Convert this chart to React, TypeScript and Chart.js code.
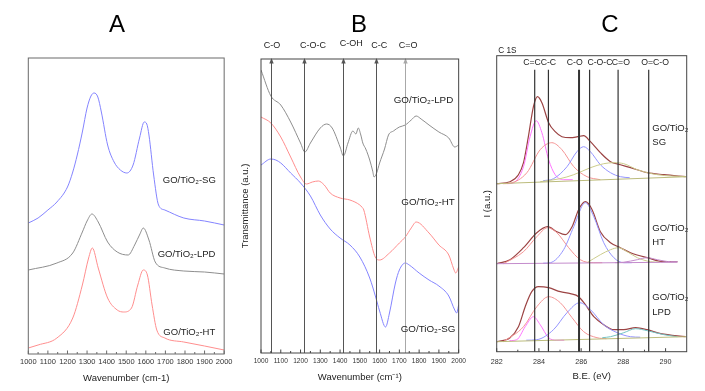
import { useEffect, useRef } from 'react';
import { Chart, registerables } from 'chart.js';

Chart.register(...registerables);

const FONT = '"Liberation Sans", Arial, Helvetica, sans-serif';

type Pt = [number, number];

// ---------------- Panel A (Raman) ----------------
const A_TICKS = [1000, 1100, 1200, 1300, 1400, 1500, 1600, 1700, 1800, 1900, 2000];
const A_MINOR = [1050, 1150, 1250, 1350, 1450, 1550, 1650, 1750, 1850, 1950];
const A_SG: Pt[] = [
  [1000, 131], [1050, 136], [1100, 144], [1146, 152], [1200, 167], [1227, 182], [1250, 199],
  [1276, 222], [1300, 246], [1320, 258], [1336, 261], [1355, 257], [1373, 242], [1405, 209],
  [1438, 192], [1470, 184], [1503, 181], [1535, 189], [1568, 216], [1592, 232], [1605, 230],
  [1616, 219], [1640, 179], [1665, 149], [1697, 144], [1794, 136], [1900, 133], [2000, 129],
];
const A_LPD: Pt[] = [
  [1000, 84], [1146, 91], [1227, 101], [1276, 122], [1300, 133], [1325, 140], [1357, 132],
  [1405, 112], [1454, 102], [1510, 99], [1543, 109], [1570, 120], [1587, 126], [1616, 114],
  [1648, 92], [1697, 86], [1794, 83], [1900, 82], [2000, 80],
];
const A_HT: Pt[] = [
  [1000, 6], [1050, 9], [1146, 16], [1227, 36], [1276, 69], [1308, 96], [1327, 106], [1357, 86],
  [1405, 56], [1454, 44], [1487, 42], [1527, 46], [1559, 69], [1587, 84], [1608, 79], [1632, 49],
  [1656, 24], [1697, 16], [1794, 12], [1900, 8], [2000, 4],
];
const A_NAMES = ['GO/TiO₂-SG', 'GO/TiO₂-LPD', 'GO/TiO₂-HT'];
const A_NAME_AT: Pt[] = [[1822, 174], [1808, 100], [1822, 22]];

// ---------------- Panel B (FTIR) ----------------
const B_TICKS = [1000, 1100, 1200, 1300, 1400, 1500, 1600, 1700, 1800, 1900, 2000];
const B_MINOR = [1050, 1150, 1250, 1350, 1450, 1550, 1650, 1750, 1850, 1950];
const B_LPD: Pt[] = [
  [1000, 283], [1050, 257], [1100, 248], [1150, 231], [1200, 210], [1222, 201], [1250, 210],
  [1300, 225], [1332, 229], [1360, 225], [1400, 206], [1417, 197], [1440, 210], [1465, 222],
  [1480, 219], [1492, 225], [1505, 218], [1515, 210], [1530, 204], [1550, 193], [1565, 182],
  [1572, 176], [1585, 180], [1600, 190], [1625, 204], [1645, 218], [1670, 222], [1700, 226],
  [1730, 228], [1760, 233], [1785, 237], [1810, 234], [1850, 228], [1900, 221], [1950, 215],
  [1980, 206], [2000, 208],
];
const B_HT: Pt[] = [
  [1000, 236], [1050, 230], [1100, 216], [1150, 196], [1200, 176], [1230, 169], [1260, 171],
  [1290, 172], [1320, 168], [1350, 160], [1400, 155], [1450, 153], [1500, 148], [1510, 146],
  [1520, 143], [1550, 116], [1578, 96], [1600, 93], [1650, 100], [1700, 110], [1730, 116],
  [1760, 125], [1785, 131], [1850, 120], [1900, 108], [1950, 98], [1975, 84], [1985, 80], [2000, 86],
];
const B_SG: Pt[] = [
  [1000, 188], [1050, 194], [1075, 193], [1100, 190], [1150, 180], [1200, 170], [1250, 157],
  [1300, 138], [1350, 124], [1400, 115], [1450, 108], [1500, 96], [1550, 75], [1580, 56],
  [1600, 42], [1630, 26], [1650, 40], [1680, 70], [1700, 83], [1730, 90], [1750, 88],
  [1800, 80], [1850, 73], [1900, 67], [1950, 57], [1980, 43], [1990, 40], [2000, 48],
];
const B_NAMES = ['GO/TiO₂-LPD', 'GO/TiO₂-HT', 'GO/TiO₂-SG'];
const B_NAME_AT: Pt[] = [[1822, 253], [1845, 151], [1845, 24]];
const B_BONDS = [1050, 1220, 1415, 1580, 1730];
const B_BOND_NAMES = ['C-O', 'C-O-C', 'C-OH', 'C-C', 'C=O'];
const B_BOND_LABEL_X = [1056, 1263, 1456, 1598, 1744];

// ---------------- Panel C (XPS C 1s) ----------------
const C_TICKS = [282, 284, 286, 288, 290];
const C_MINOR = [283, 285, 287, 289];
const C_SG_ENV: Pt[] = [
  [282, 168], [282.63, 170], [283.03, 177], [283.27, 189], [283.5, 215], [283.74, 245],
  [283.93, 255], [284.14, 249], [284.46, 229], [284.77, 220], [285.09, 215], [285.49, 214],
  [285.84, 215], [286.12, 216], [286.44, 210], [286.91, 199], [287.39, 190], [287.86, 187],
  [288.34, 184], [289.13, 179], [289.92, 177], [290.95, 175],
];
const C_SG_CC: Pt[] = [
  [282.5, 168], [282.8, 169], [283.27, 185], [283.58, 215], [283.87, 231], [284.14, 219],
  [284.46, 192], [284.77, 177], [285.17, 172], [285.6, 172],
];
const C_SG_C_C: Pt[] = [
  [282.3, 168], [282.63, 168.5], [283.43, 179], [284.06, 202], [284.61, 209], [285.09, 202],
  [285.65, 185], [286.28, 175], [286.91, 172],
];
const C_SG_CO: Pt[] = [
  [284.2, 171], [284.69, 173], [285.33, 185], [285.8, 200], [286.12, 205], [286.44, 200],
  [286.91, 187], [287.39, 179], [287.86, 175], [288.3, 174],
];
const C_SG_C_O: Pt[] = [
  [284.06, 170], [285.0, 173], [285.65, 177], [286.44, 184], [287.07, 188], [287.55, 189],
  [288.02, 188], [288.66, 182], [289.61, 177], [290.95, 175],
];
const C_SG_BASE: Pt[] = [[282, 168], [291, 175]];

const C_HT_ENV: Pt[] = [
  [282, 88], [282.63, 92], [283.27, 104], [283.9, 119], [284.41, 125], [284.85, 120],
  [285.25, 117], [285.57, 125], [285.88, 142], [286.2, 150], [286.52, 142], [286.91, 120],
  [287.39, 109], [287.86, 104], [288.34, 99], [289.13, 94], [289.92, 90], [290.56, 90],
];
const C_HT_C_C: Pt[] = [
  [282.32, 88], [283.27, 100], [283.9, 115], [284.41, 124], [284.85, 119], [285.41, 104],
  [285.96, 92], [286.6, 89], [287, 89],
];
const C_HT_CO: Pt[] = [
  [284.2, 88.5], [284.54, 89], [285.17, 102], [285.65, 125], [286.2, 149], [286.6, 135],
  [287.07, 109], [287.55, 94], [288.02, 89], [288.4, 89],
];
const C_HT_C_O: Pt[] = [
  [286.28, 89], [286.91, 97], [287.39, 102], [287.78, 104], [288.18, 100], [288.66, 94],
  [289.29, 90], [289.7, 89.5],
];
const C_HT_OCO: Pt[] = [
  [287.6, 89], [288.02, 89.5], [288.66, 92], [289.13, 94], [289.61, 92], [290.24, 90], [290.56, 90],
];
const C_HT_BASE: Pt[] = [[282, 88], [290.56, 89.5]];

const C_LPD_ENV: Pt[] = [
  [282, 10], [282.63, 14], [283.03, 25], [283.35, 45], [283.66, 60], [283.98, 65], [284.46, 64],
  [285.01, 60], [285.49, 58], [285.88, 55], [286.2, 47], [286.6, 35], [287.07, 27], [287.55, 22],
  [288.02, 22], [288.58, 24], [289.13, 22], [289.77, 18], [290.95, 15],
];
const C_LPD_C_C: Pt[] = [
  [282.32, 10], [283.27, 25], [283.9, 45], [284.46, 55], [285.01, 49], [285.57, 34], [286.12, 20],
  [286.75, 14], [287.2, 13],
];
const C_LPD_CC: Pt[] = [
  [282.6, 11], [282.95, 12], [283.35, 25], [283.74, 35], [284.06, 27], [284.46, 14], [284.85, 11.5],
  [285.2, 11.5],
];
const C_LPD_CO: Pt[] = [
  [283.4, 11.5], [283.9, 12], [284.69, 22], [285.33, 39], [285.93, 49], [286.44, 42], [287.07, 27],
  [287.71, 19], [288.34, 15], [288.8, 14.5],
];
const C_LPD_OCO: Pt[] = [
  [287.0, 14], [287.39, 15], [288.02, 19], [288.58, 23], [289.13, 21], [289.92, 17], [290.56, 15],
];
const C_LPD_BASE: Pt[] = [[282, 10], [291, 15]];

const C_BONDS = [283.8, 284.45, 285.9, 286.4, 287.75, 289.2];
const C_BOND_NAMES = ['C=C', 'C-C', 'C-O', 'C-O-C', 'C=O', 'O=C-O'];
const C_BOND_LABEL_X = [283.67, 284.45, 285.7, 286.89, 287.88, 289.5];
const C_GROUPS = ['SG', 'HT', 'LPD'];
const C_GROUP_Y = [223.7, 123.7, 54.3];
const C_GROUP_X = 289.37;

// ---------------- helpers ----------------
const xy = (pts: Pt[]) => pts.map(([x, y]) => ({ x, y }));

function ds(label: string, pts: Pt[], color: string, width = 1) {
  return {
    label,
    data: xy(pts),
    borderColor: color,
    borderWidth: width,
    pointRadius: 0,
    fill: false,
    cubicInterpolationMode: 'monotone',
  };
}

function txt(ctx: CanvasRenderingContext2D, s: string, x: number, y: number, size: number,
  align: CanvasTextAlign = 'center', baseline: CanvasTextBaseline = 'middle', color = '#222', family = FONT) {
  ctx.font = `${size}px ${family}`;
  ctx.fillStyle = color;
  ctx.textAlign = align;
  ctx.textBaseline = baseline;
  ctx.fillText(s, x, y);
}

function framePlugin(spec: any) {
  return {
    id: 'frame' + spec.key,
    afterDatasetsDraw(chart: any) {
      const { ctx, chartArea: a, scales } = chart;
      const xs = scales.x;
      const ys = scales.y;
      ctx.save();
      if (spec.extra) spec.extra(ctx, a, xs, ys);
      ctx.strokeStyle = spec.boxColor;
      ctx.lineWidth = 1;
      ctx.strokeRect(a.left, a.top, a.right - a.left, a.bottom - a.top);
      ctx.beginPath();
      spec.major.forEach((v: number) => {
        const x = xs.getPixelForValue(v);
        ctx.moveTo(x, a.bottom);
        ctx.lineTo(x, a.bottom - 3.5);
      });
      spec.minor.forEach((v: number) => {
        const x = xs.getPixelForValue(v);
        ctx.moveTo(x, a.bottom);
        ctx.lineTo(x, a.bottom - 2);
      });
      ctx.stroke();
      txt(ctx, spec.letter, spec.letterX, spec.letterY, 24, 'center', 'alphabetic', '#000');
      ctx.restore();
    },
  };
}

function makeOptions(o: any) {
  return {
    animation: false,
    responsive: false,
    maintainAspectRatio: false,
    events: [],
    layout: { padding: o.padding },
    plugins: { legend: { display: false }, tooltip: { enabled: false }, title: { display: false } },
    scales: {
      x: {
        type: 'linear',
        min: o.xMin,
        max: o.xMax,
        afterBuildTicks: (s: any) => { s.ticks = o.ticks.map((v: number) => ({ value: v })); },
        afterFit: (s: any) => { s.height = o.axisH; },
        grid: { display: false, drawTicks: false },
        border: { display: false },
        ticks: {
          font: { family: FONT, size: o.tickSize },
          color: '#333',
          padding: o.tickPad,
          maxRotation: 0,
          autoSkip: false,
          callback: (v: any) => String(v),
        },
        title: {
          display: true,
          text: o.xTitle,
          font: { family: FONT, size: 9.5 },
          color: '#222',
          padding: { top: 0, bottom: o.xTitlePad },
        },
      },
      y: o.yTitle
        ? {
          type: 'linear',
          min: 0,
          max: o.yMax,
          afterFit: (s: any) => { s.width = o.yW; },
          grid: { display: false, drawTicks: false },
          border: { display: false },
          ticks: { display: false },
          title: {
            display: true,
            text: o.yTitle,
            font: { family: FONT, size: 9.5 },
            color: '#222',
            padding: { top: o.yTitlePad, bottom: 0 },
          },
        }
        : { type: 'linear', display: false, min: 0, max: o.yMax },
    },
  };
}

// ---------------- configs ----------------
function configA() {
  return {
    type: 'line',
    data: {
      datasets: [
        ds('GO/TiO₂-SG', A_SG, '#8484ff'),
        ds('GO/TiO₂-LPD', A_LPD, '#8e8e8e'),
        ds('GO/TiO₂-HT', A_HT, '#ff8e8e'),
      ],
    },
    options: makeOptions({
      padding: { left: 28.3, right: 2, top: 58, bottom: 0 },
      xMin: 1000, xMax: 2000, ticks: A_TICKS, axisH: 37, tickSize: 7.5, tickPad: 3.5,
      xTitle: 'Wavenumber (cm-1)', xTitlePad: 7.3, yMax: 296,
    }),
    plugins: [framePlugin({
      key: 'A', boxColor: '#6a6a6a', major: A_TICKS, minor: A_MINOR, letter: 'A', letterX: 117, letterY: 31.7,
      extra: (ctx: any, a: any, xs: any, ys: any) => {
        A_NAMES.forEach((n, i) => {
          txt(ctx, n, xs.getPixelForValue(A_NAME_AT[i][0]), ys.getPixelForValue(A_NAME_AT[i][1]), 9.5);
        });
      },
    })],
  };
}

function configB() {
  return {
    type: 'line',
    data: {
      datasets: [
        ds('GO/TiO₂-LPD', B_LPD, '#8e8e8e'),
        ds('GO/TiO₂-HT', B_HT, '#ff8e8e'),
        ds('GO/TiO₂-SG', B_SG, '#8484ff'),
      ],
    },
    options: makeOptions({
      padding: { left: 0, right: 11, top: 59, bottom: 0 },
      xMin: 1000, xMax: 2000, ticks: B_TICKS, axisH: 38, tickSize: 6.6, tickPad: 4,
      xTitle: 'Wavenumber (cm⁻¹)', xTitlePad: 8, yMax: 294,
      yTitle: 'Transmittance (a.u.)', yW: 25, yTitlePad: 3.6,
    }),
    plugins: [framePlugin({
      key: 'B', boxColor: '#444', major: B_TICKS, minor: B_MINOR, letter: 'B', letterX: 123, letterY: 31.7,
      extra: (ctx: any, a: any, xs: any, ys: any) => {
        B_BONDS.forEach((v, i) => {
          const x = Math.round(xs.getPixelForValue(v)) + 0.5;
          const col = i === B_BONDS.length - 1 ? '#a8a8a8' : '#555';
          ctx.strokeStyle = col;
          ctx.fillStyle = col;
          ctx.lineWidth = 1;
          ctx.beginPath();
          ctx.moveTo(x, a.bottom);
          ctx.lineTo(x, a.top + 3);
          ctx.stroke();
          ctx.beginPath();
          ctx.moveTo(x, a.top - 1);
          ctx.lineTo(x - 2.2, a.top + 4.5);
          ctx.lineTo(x + 2.2, a.top + 4.5);
          ctx.closePath();
          ctx.fill();
          txt(ctx, B_BOND_NAMES[i], xs.getPixelForValue(B_BOND_LABEL_X[i]), i === 2 ? 43.5 : 46, 9);
        });
        B_NAMES.forEach((n, i) => {
          txt(ctx, n, xs.getPixelForValue(B_NAME_AT[i][0]), ys.getPixelForValue(B_NAME_AT[i][1]), 9.8);
        });
      },
    })],
  };
}

const ENV = '#9c4444';
const MAG = '#ff74ff';
const SAL = '#f49494';
const BLU = '#9494ff';
const OLV = '#cccc8c';
const TEAL = '#74c4c4';
const PUR = '#c48ccc';
const BASE = '#bcbc7c';

function configC() {
  return {
    type: 'line',
    data: {
      datasets: [
        ds('SG baseline', C_SG_BASE, BASE),
        ds('SG C=O', C_SG_C_O, OLV),
        ds('SG C-O', C_SG_CO, BLU),
        ds('SG C-C', C_SG_C_C, SAL),
        ds('SG C=C', C_SG_CC, MAG),
        ds('SG fit', C_SG_ENV, ENV, 1.2),
        ds('HT baseline', C_HT_BASE, PUR),
        ds('HT O=C-O', C_HT_OCO, PUR),
        ds('HT C=O', C_HT_C_O, OLV),
        ds('HT C-O', C_HT_CO, BLU),
        ds('HT C-C', C_HT_C_C, SAL),
        ds('HT fit', C_HT_ENV, ENV, 1.2),
        ds('LPD baseline', C_LPD_BASE, BASE),
        ds('LPD O=C-O', C_LPD_OCO, TEAL),
        ds('LPD C-O', C_LPD_CO, BLU),
        ds('LPD C=C', C_LPD_CC, MAG),
        ds('LPD C-C', C_LPD_C_C, SAL),
        ds('LPD fit', C_LPD_ENV, ENV, 1.2),
      ],
    },
    options: makeOptions({
      padding: { left: 0, right: 18.3, top: 55.7, bottom: 0 },
      xMin: 282, xMax: 291, ticks: C_TICKS, axisH: 39.3, tickSize: 7.2, tickPad: 5.7,
      xTitle: 'B.E. (eV)', xTitlePad: 9.3, yMax: 296,
      yTitle: 'I (a.u.)', yW: 26.7, yTitlePad: 11.3,
    }),
    plugins: [framePlugin({
      key: 'C', boxColor: '#444', major: C_TICKS, minor: C_MINOR, letter: 'C', letterX: 140, letterY: 32.3,
      extra: (ctx: any, a: any, xs: any, ys: any) => {
        C_BONDS.forEach((v, i) => {
          const x = xs.getPixelForValue(v);
          ctx.strokeStyle = '#333';
          ctx.lineWidth = i === 2 ? 2 : 1.2;
          ctx.beginPath();
          ctx.moveTo(x, a.bottom);
          ctx.lineTo(x, a.top + 14);
          ctx.stroke();
          txt(ctx, C_BOND_NAMES[i], xs.getPixelForValue(C_BOND_LABEL_X[i]), a.top + 7, 8.7);
        });
        txt(ctx, 'C 1S', a.left + 1.5, a.top - 5, 8.2, 'left');
        C_GROUPS.forEach((g, i) => {
          const x = xs.getPixelForValue(C_GROUP_X);
          txt(ctx, 'GO/TiO₂', x, ys.getPixelForValue(C_GROUP_Y[i]), 9.5, 'left');
          txt(ctx, g, x, ys.getPixelForValue(C_GROUP_Y[i] - 14.5), 9.5, 'left');
        });
      },
    })],
  };
}

export default function App() {
  const refA = useRef<HTMLCanvasElement>(null);
  const refB = useRef<HTMLCanvasElement>(null);
  const refC = useRef<HTMLCanvasElement>(null);

  useEffect(() => {
    const charts = [
      new Chart(refA.current as any, configA() as any),
      new Chart(refB.current as any, configB() as any),
      new Chart(refC.current as any, configC() as any),
    ];
    return () => charts.forEach((c) => c.destroy());
  }, []);

  return (
    <div style={{ position: 'absolute', left: 0, top: 0, width: 705, height: 391, background: '#fff', overflow: 'hidden' }}>
      <canvas ref={refA} width={236} height={391} style={{ position: 'absolute', left: 0, top: 0 }} />
      <canvas ref={refB} width={234} height={391} style={{ position: 'absolute', left: 236, top: 0 }} />
      <canvas ref={refC} width={235} height={391} style={{ position: 'absolute', left: 470, top: 0 }} />
    </div>
  );
}
